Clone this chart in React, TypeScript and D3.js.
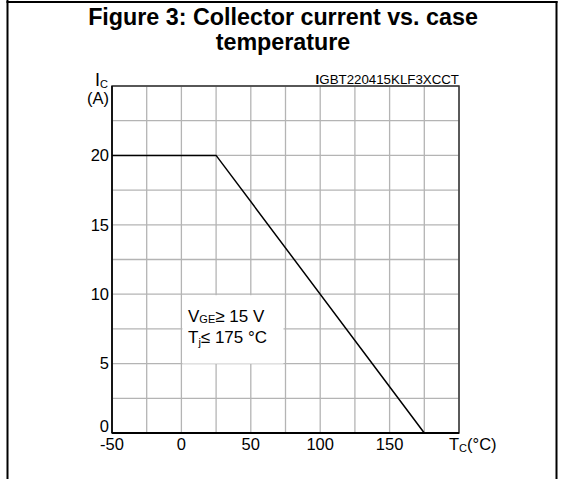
import * as d3 from 'd3';

// derating curve
const caseTemp = [-50, 25, 175];
const collectorCurrent = [20, 20, 0];

const xTickValues = [-50, 0, 50, 100, 150];
const yTickValues = [0, 5, 10, 15, 20];
const xGridValues = d3.range(-50, 200.1, 25);
const yGridValues = d3.range(0, 25.1, 2.5);

const W = 563;
const H = 479;
const FONT = '"Liberation Sans", Arial, Helvetica, sans-serif';

export default function App() {
  const x = d3.scaleLinear().domain([-50, 200]).range([112, 459]);
  const y = d3.scaleLinear().domain([0, 25]).range([433, 86]);

  const pts = caseTemp.map((t, i) => [t, collectorCurrent[i]] as [number, number]);
  const line = d3
    .line<[number, number]>()
    .x((d) => x(d[0]))
    .y((d) => y(d[1]));

  const x0 = x.range()[0];
  const x1 = x.range()[1];
  const yTop = y.range()[1];
  const yBot = y.range()[0];

  return (
    <svg
      width={W}
      height={H}
      style={{ position: 'fixed', left: 0, top: 0, background: '#fff' }}
      fontFamily={FONT}
    >
      {/* page frame */}
      <line x1={7.5} x2={7.5} y1={0} y2={H} stroke="#000" strokeWidth={2} />
      <line x1={6.5} x2={557.5} y1={2} y2={2} stroke="#000" strokeWidth={2} />
      <line x1={556.5} x2={556.5} y1={1} y2={H} stroke="#000" strokeWidth={2} />

      {/* title */}
      <text x={283} y={24.5} textAnchor="middle" fontSize={23.3} fontWeight="bold" fill="#000">
        Figure 3: Collector current vs. case
      </text>
      <text x={283} y={50} textAnchor="middle" fontSize={23.3} fontWeight="bold" fill="#000">
        temperature
      </text>

      {/* grid */}
      <g stroke="#b4b4b4" strokeWidth={1.3}>
        {xGridValues.map((v) => (
          <line key={'gx' + v} x1={x(v)} x2={x(v)} y1={yTop} y2={yBot} />
        ))}
        {yGridValues.map((v) => (
          <line key={'gy' + v} x1={x0} x2={x1} y1={y(v)} y2={y(v)} />
        ))}
      </g>

      {/* annotation box hides the grid behind the conditions */}
      <rect
        x={x(0) + 1}
        y={y(10) + 1}
        width={x(75) - x(0) - 3}
        height={y(5) - y(10) - 1}
        fill="#fff"
      />

      {/* plot frame */}
      <rect x={x0} y={yTop} width={x1 - x0} height={yBot - yTop} fill="none" stroke="#333" strokeWidth={1.5} />
      <line x1={x0} x2={x1} y1={yBot} y2={yBot} stroke="#000" strokeWidth={1.8} />
      <line x1={x0} x2={x0} y1={yTop} y2={yBot} stroke="#000" strokeWidth={1.5} />

      {/* curve */}
      <path d={line(pts) ?? ''} fill="none" stroke="#000" strokeWidth={1.5} />

      {/* y tick labels */}
      <g fontSize={16.5} fill="#000" textAnchor="end">
        {yTickValues.map((v) => (
          <text key={'ty' + v} x={x0 - 3} y={v === 0 ? yBot - 1.5 : y(v)} dy={v === 0 ? 0 : '0.35em'}>
            {v}
          </text>
        ))}
      </g>

      {/* x tick labels */}
      <g fontSize={16.5} fill="#000" textAnchor="middle">
        {xTickValues.map((v) => (
          <text key={'tx' + v} x={x(v)} y={449.5}>
            {v}
          </text>
        ))}
      </g>

      {/* axis titles */}
      <text x={x1 - 10} y={449.5} fontSize={16.5} fill="#000">
        T<tspan fontSize={11} dy={2}>C</tspan>
        <tspan dy={-2}>(°C)</tspan>
      </text>
      <text x={95} y={86} fontSize={18} fill="#000">
        I<tspan fontSize={11} dy={2}>C</tspan>
      </text>
      <text x={x0 - 3} y={104} fontSize={16.5} fill="#000" textAnchor="end">
        (A)
      </text>

      {/* figure code */}
      <text x={x1} y={84.3} fontSize={13.3} fill="#000" textAnchor="end">
        <tspan fontWeight="bold">I</tspan>GBT220415KLF3XCCT
      </text>

      {/* test conditions */}
      <text x={188} y={321.5} fontSize={17} fill="#000">
        V<tspan fontSize={11} dy={1.5}>GE</tspan>
        <tspan dy={-1.5}>≥ 15 V</tspan>
      </text>
      <text x={188} y={343} fontSize={17} fill="#000">
        T<tspan fontSize={11} dy={3}>j</tspan>
        <tspan dy={-3}>≤ 175 °C</tspan>
      </text>
    </svg>
  );
}
